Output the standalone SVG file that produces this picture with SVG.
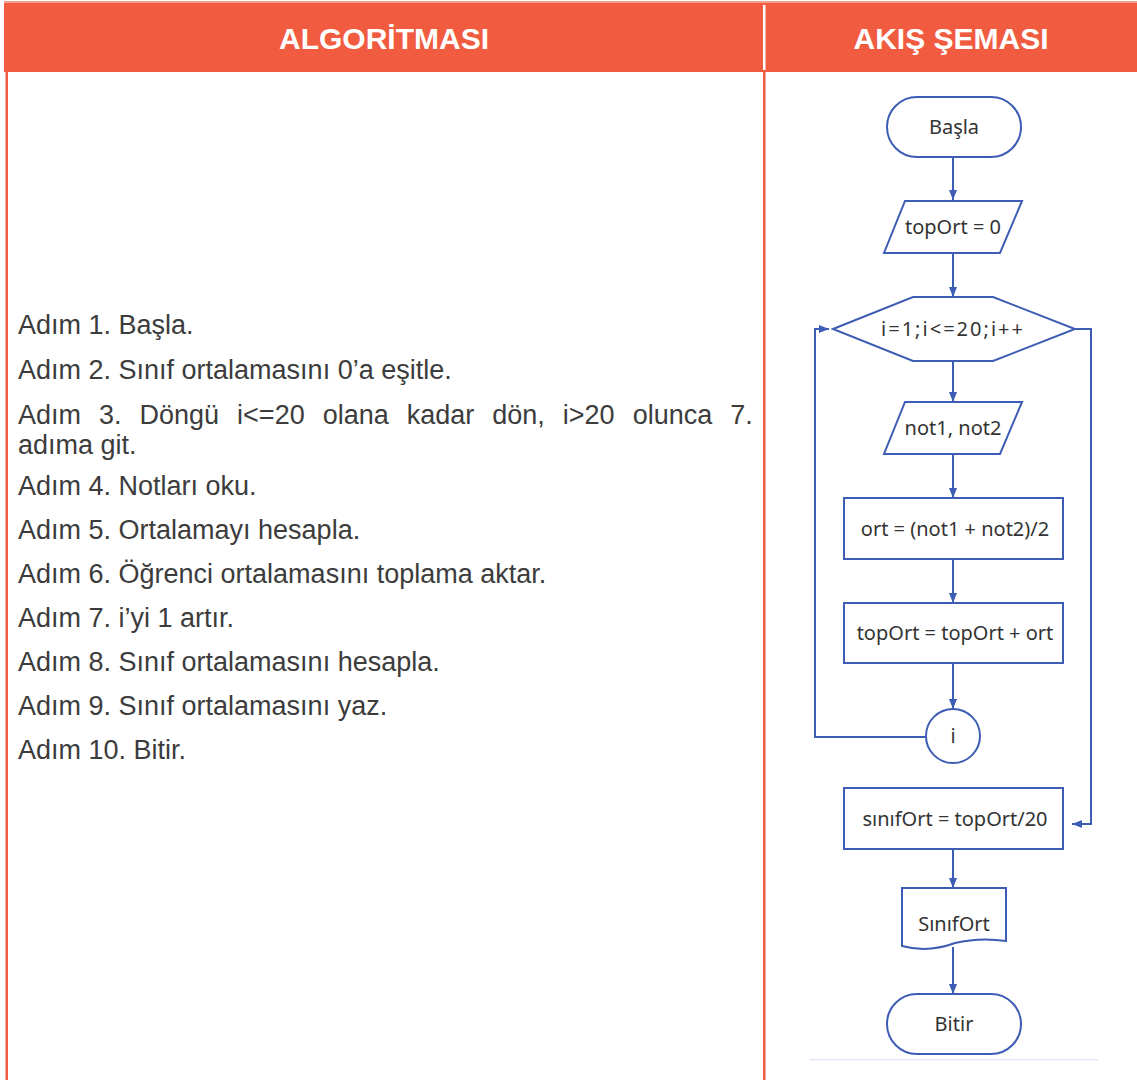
<svg xmlns="http://www.w3.org/2000/svg" width="1137" height="1080" viewBox="0 0 1137 1080">
<style>
.hdr{font-family:"Liberation Sans",Arial,sans-serif;font-weight:bold;font-size:30px;fill:#ffffff;text-anchor:middle}
.step{font-family:"Liberation Sans",Arial,sans-serif;font-size:27px;fill:#3c3c3c}
.shape{fill:#ffffff;stroke:#3d5db5;stroke-width:2}
.lbl{font-family:"Noto Sans",Lato,sans-serif;font-size:20px;fill:#333333;text-anchor:middle}
.conn{fill:none;stroke:#3d5db5;stroke-width:2}
</style>
<defs>
<marker id="arr" markerUnits="userSpaceOnUse" markerWidth="10" markerHeight="10" refX="10" refY="5" orient="auto">
<path d="M0,1 L10,5 L0,9 Z" fill="#3d5db5"/>
</marker>
</defs>
<rect x="0" y="0" width="1137" height="1080" fill="#ffffff"/>
<g id="frame">
<rect x="4" y="1" width="1133" height="2" fill="#f7a08f"/>
<rect x="4" y="3" width="1133" height="69" fill="#f15b40"/>
<rect x="763" y="5" width="2.5" height="65" fill="#ffffff"/>
<rect x="5.5" y="72" width="2.5" height="1008" fill="#f15b40"/>
<rect x="763" y="72" width="2.5" height="1008" fill="#f15b40"/>
<text class="hdr" x="384" y="49">ALGORİTMASI</text>
<text class="hdr" x="951" y="49">AKIŞ ŞEMASI</text>
</g>
<g id="algorithm">
<text class="step" x="18" y="334">Adım 1. Başla.</text>
<text class="step" x="18" y="379">Adım 2. Sınıf ortalamasını 0’a eşitle.</text>
<text class="step" x="18" y="424" word-spacing="10.5">Adım 3. Döngü i&lt;=20 olana kadar dön, i&gt;20 olunca 7.</text>
<text class="step" x="18" y="454">adıma git.</text>
<text class="step" x="18" y="495">Adım 4. Notları oku.</text>
<text class="step" x="18" y="539">Adım 5. Ortalamayı hesapla.</text>
<text class="step" x="18" y="583">Adım 6. Öğrenci ortalamasını toplama aktar.</text>
<text class="step" x="18" y="627">Adım 7. i’yi 1 artır.</text>
<text class="step" x="18" y="671">Adım 8. Sınıf ortalamasını hesapla.</text>
<text class="step" x="18" y="715">Adım 9. Sınıf ortalamasını yaz.</text>
<text class="step" x="18" y="759">Adım 10. Bitir.</text>
</g>
<g id="connectors">
<path class="conn" d="M953,157 V200" marker-end="url(#arr)"/>
<path class="conn" d="M953,253 V297" marker-end="url(#arr)"/>
<path class="conn" d="M953,361 V402" marker-end="url(#arr)"/>
<path class="conn" d="M953,454 V498" marker-end="url(#arr)"/>
<path class="conn" d="M953,559 V603" marker-end="url(#arr)"/>
<path class="conn" d="M953,663 V709" marker-end="url(#arr)"/>
<path class="conn" d="M926,737 H815 V329 H829" marker-end="url(#arr)"/>
<path class="conn" d="M1075,329 H1091 V824 H1072" marker-end="url(#arr)"/>
<path class="conn" d="M953,849 V888" marker-end="url(#arr)"/>
<path class="conn" d="M953,947 V994" marker-end="url(#arr)"/>
</g>
<g id="n-basla">
<rect class="shape" x="887" y="97" width="134" height="60" rx="30"/>
<text class="lbl" x="954" y="134">Başla</text>
</g>
<g id="n-toport0">
<polygon class="shape" points="905,201 1022,201 1000,253 884,253"/>
<text class="lbl" x="953" y="234">topOrt = 0</text>
</g>
<g id="n-loop">
<polygon class="shape" points="833,329 913,297 993,297 1075,329 993,361 913,361"/>
<text class="lbl" x="952" y="336" textLength="142" lengthAdjust="spacing">i=1;i&lt;=20;i++</text>
</g>
<g id="n-notlar">
<polygon class="shape" points="905,402 1022,402 1000,454 884,454"/>
<text class="lbl" x="953" y="435">not1, not2</text>
</g>
<g id="n-ort">
<rect class="shape" x="844" y="498" width="219" height="61"/>
<text class="lbl" x="955" y="536">ort = (not1 + not2)/2</text>
</g>
<g id="n-toport">
<rect class="shape" x="844" y="603" width="219" height="60"/>
<text class="lbl" x="955" y="640">topOrt = topOrt + ort</text>
</g>
<g id="n-i">
<circle class="shape" cx="953" cy="736" r="27"/>
<text class="lbl" x="953" y="743">i</text>
</g>
<g id="n-sinifort">
<rect class="shape" x="844" y="788" width="219" height="61"/>
<text class="lbl" x="955" y="826">sınıfOrt = topOrt/20</text>
</g>
<g id="n-yaz">
<path class="shape" d="M902,888 H1006 V941 Q980,937 955,943 Q928,953 902,946 Z"/>
<text class="lbl" x="954" y="931">SınıfOrt</text>
</g>
<g id="n-bitir">
<rect class="shape" x="887" y="994" width="134" height="60" rx="30"/>
<text class="lbl" x="954" y="1031">Bitir</text>
</g>
<rect x="809" y="1059" width="289" height="1.5" fill="#e3e9f3"/>
</svg>
